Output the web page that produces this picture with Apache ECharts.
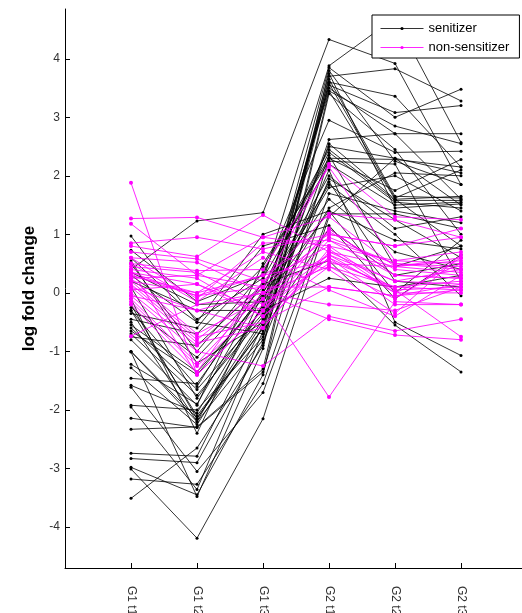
<!DOCTYPE html>
<html>
<head>
<meta charset="utf-8">
<script src="https://cdn.jsdelivr.net/npm/echarts@6/dist/echarts.min.js"></script>
<style>html,body{margin:0;padding:0;background:#fff;}#c{width:522px;height:613px;}</style>
</head>
<body>
<div id="c"></div>
<script>
const categories = ["G1 t1", "G1 t2", "G1 t3", "G2 t1", "G2 t2", "G2 t3"];
const yTicks = [-4, -3, -2, -1, 0, 1, 2, 3, 4];
const sensitizerName = "senitizer";
const nonSensitizerName = "non-sensitizer";

const sensitizer = [
  [0.4, 1.23, 1.37, 4.33, 3.92, 1.85],
  [-0.3, -1.6, 0.2, 3.88, 4.7, 2.57],
  [-3.01, -4.19, -2.15, 1.3, 2.3, 1.5],
  [-3.51, -2.65, -0.9, 3.7, 3.83, 3.28],
  [0.97, -0.5, -0.7, 3.6, 3.36, 2.15],
  [-0.5, -2.2, -0.8, 3.55, 3.08, 3.2],
  [-2.33, -2.29, -1.3, 3.45, 2.85, 2.55],
  [-0.6, -1.65, -0.35, 3.85, 3.0, 3.48],
  [-1.58, -2.05, -0.2, 3.5, 2.72, 2.72],
  [-2.98, -3.45, -1.4, 3.4, 2.45, 1.0],
  [0.73, -0.15, 0.3, 2.95, 2.4, 2.42],
  [-1.0, -2.14, -0.6, 2.62, 2.72, 1.6],
  [-2.74, -2.79, -0.55, 2.55, 1.6, 1.65],
  [-1.22, -1.9, 0.05, 2.5, 2.3, 2.05],
  [-0.25, -1.1, 0.1, 2.4, 1.55, 1.45],
  [-1.92, -2.0, -0.75, 2.35, 0.45, 0.8],
  [-0.45, -0.7, 0.45, 2.3, 2.28, 2.15],
  [-2.14, -2.3, -1.35, 2.3, 1.75, 2.28],
  [0.6, -0.45, 0.25, 2.2, 1.5, 1.55],
  [-1.28, -2.25, -0.5, 2.1, -0.5, -1.07],
  [-2.83, -2.9, -0.85, 1.95, 1.25, 0.6],
  [-1.46, -1.55, 0.0, 1.85, 1.0, -0.05],
  [-0.55, -1.35, -0.1, 1.8, 2.0, 1.4],
  [-3.18, -3.27, -1.55, 1.7, 1.4, 1.2],
  [-0.7, -1.75, -0.4, 1.45, 2.05, 2.0],
  [0.35, -0.2, -0.15, 1.4, 0.9, 0.75],
  [-1.61, -3.05, -1.7, 1.35, 1.35, 1.1],
  [-1.95, -3.36, -0.65, 1.1, 0.3, 0.5],
  [-0.75, -0.9, 0.15, 0.55, -0.55, -1.35],
  [0.2, -0.3, -0.3, 0.25, 0.1, 0.3],
  [-0.2, -2.15, -0.45, 3.65, 1.65, 1.62],
  [-1.01, -3.48, -0.95, 3.8, 2.25, 1.85],
  [0.5, -1.0, 0.35, 2.45, 1.58, 1.58],
  [-0.65, -1.4, -0.05, 1.6, 0.7, 0.4],
  [0.1, -1.8, -0.25, 1.9, 0.2, 0.1],
  [-0.1, -2.4, 0.0, 2.0, 1.1, 1.3],
  [-0.35, -0.6, 0.8, 1.15, -0.1, 0.65],
  [0.55, -1.2, -0.5, 3.58, 1.62, 2.1],
  [-0.8, -1.92, 0.5, 2.25, 2.2, 0.2],
  [-0.3, -2.1, -0.6, 3.75, 1.45, 1.52],
  [0.3, -0.5, 1.0, 1.4, 0.0, 0.9],
  [-1.0, -2.2, -0.2, 3.45, 1.6, 0.8]
];

const nonSensitizer = [
  [1.88, -1.4, -0.3, 0.9, 0.5, 0.4],
  [1.27, 1.29, 0.95, 0.8, 0.55, 0.5],
  [1.18, 0.3, 0.1, 2.2, 1.3, 1.25],
  [0.85, 0.95, 0.75, 1.0, 0.8, 1.1],
  [0.8, 0.62, 1.33, 0.7, 0.45, 0.35],
  [0.7, 0.58, 0.2, 1.35, 1.25, 0.95],
  [0.6, 0.52, 0.0, 0.45, -0.1, 0.6],
  [0.5, 0.38, 0.4, 2.15, 0.55, 0.7],
  [0.45, 0.35, -0.2, 0.65, 0.2, 0.15],
  [0.4, 0.25, -0.4, 0.6, 0.05, 0.1],
  [0.35, 0.15, -0.3, 1.1, 0.3, 0.25],
  [0.3, -0.05, 0.3, 0.55, 0.1, 0.2],
  [0.25, -0.7, -0.1, 1.05, 0.4, 0.3],
  [0.2, -0.75, -0.5, 0.1, -0.05, 0.05],
  [0.15, -0.8, 0.1, 0.95, 0.5, 0.45],
  [0.1, -0.85, -0.6, 0.75, 0.0, 0.0],
  [0.0, -0.9, -0.1, -1.78, -0.15, -0.2],
  [-0.05, -1.0, -1.25, -0.4, -0.65, -0.45],
  [-0.1, -1.2, 0.0, -0.45, -0.72, -0.8],
  [-0.15, -1.25, -0.2, 0.5, 0.45, 0.55],
  [-0.2, -1.35, 0.2, 0.8, 0.05, -0.75],
  [-0.74, -0.2, 0.0, -0.2, -0.3, 0.1],
  [0.3, 0.0, 0.7, 0.4, -0.35, 0.65],
  [0.5, -0.15, 0.6, 0.05, -0.4, 0.3],
  [0.6, -0.1, 0.85, 0.9, 0.3, 0.25],
  [0.1, -0.3, -0.6, 0.7, 0.2, 0.4],
  [0.25, 0.3, 0.95, 1.3, 0.45, 0.6],
  [0.4, -1.4, -0.3, 0.6, -0.2, -0.2],
  [0.05, 0.15, -0.4, 0.45, 0.1, 0.05],
  [-0.05, -0.3, 0.0, 0.65, 0.0, 0.5],
  [0.2, 0.0, 0.3, 1.0, 0.8, 0.95],
  [0.35, -0.05, 0.1, 0.1, -0.05, 0.15]
];

const FONT = "Liberation Sans, Arial, sans-serif";
const xPositions = categories.map((c, i) => i + 1);

function makeSeries(rows, name, color, symSize, opacity) {
  return rows.map(row => ({
    type: 'line',
    name: name,
    data: row.map((v, i) => [xPositions[i], v]),
    symbol: 'circle',
    symbolSize: symSize,
    showSymbol: true,
    clip: false,
    lineStyle: { color: color, width: 1, opacity: opacity },
    itemStyle: { color: color },
    emphasis: { disabled: true },
    silent: true,
    animation: false
  }));
}

const series = [].concat(
  makeSeries(sensitizer, sensitizerName, '#000000', 3, 0.8),
  makeSeries(nonSensitizer, nonSensitizerName, '#ff00ff', 4, 0.85)
);

const chart = echarts.init(document.getElementById('c'), null, { renderer: 'canvas' });
chart.setOption({
  animation: false,
  backgroundColor: '#ffffff',
  grid: { left: 65, top: 9, width: 462, height: 559, containLabel: false, outerBoundsMode: 'none' },
  legend: {
    data: [sensitizerName, nonSensitizerName],
    orient: 'vertical',
    left: 372,
    top: 15,
    padding: [6, 10, 3, 8],
    itemGap: 4,
    itemWidth: 43,
    itemHeight: 4,
    borderColor: '#000',
    borderWidth: 1,
    backgroundColor: '#fff',
    lineStyle: { width: 1 },
    textStyle: { fontFamily: FONT, fontSize: 13, color: '#000', lineHeight: 15 },
    selectedMode: false
  },
  xAxis: {
    type: 'value',
    min: 0,
    max: 7,
    splitLine: { show: false },
    axisLine: { show: true, onZero: false, lineStyle: { color: '#000', width: 1 } },
    axisTick: { show: true, inside: true, length: 5, customValues: xPositions, lineStyle: { color: '#000' } },
    axisLabel: {
      customValues: xPositions,
      formatter: v => categories[Math.round(v) - 1] || '',
      rotate: -90,
      margin: 18,
      fontFamily: FONT,
      fontSize: 12,
      color: '#333'
    }
  },
  yAxis: {
    type: 'value',
    min: -4.7,
    max: 4.85,
    name: 'log fold change',
    nameLocation: 'middle',
    nameGap: 27,
    nameTextStyle: { fontFamily: FONT, fontSize: 17, fontWeight: 'bold', color: '#000' },
    splitLine: { show: false },
    axisLine: { show: true, onZero: false, lineStyle: { color: '#000', width: 1 } },
    axisTick: { show: true, inside: true, length: 5, customValues: yTicks, lineStyle: { color: '#000' } },
    axisLabel: { customValues: yTicks, margin: 5, fontFamily: FONT, fontSize: 12, color: '#333' }
  },
  series: series
});
</script>
</body>
</html>
